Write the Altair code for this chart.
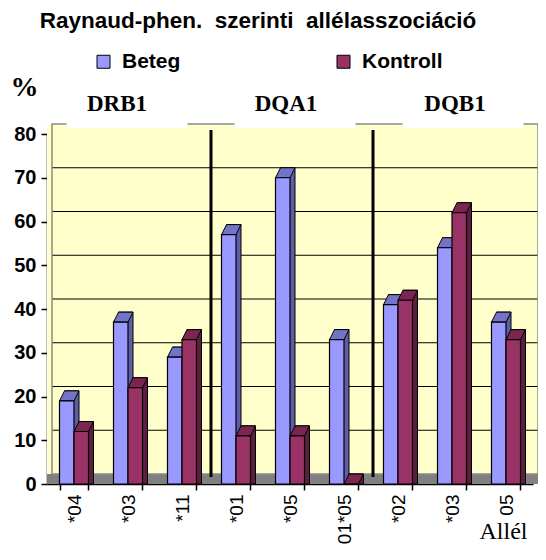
import altair as alt
import pandas as pd

# ---- data ----
groups = ["DRB1", "DRB1", "DRB1", "DQA1", "DQA1", "DQA1", "DQB1", "DQB1", "DQB1"]
alleles = ["*04", "*03", "*11", "*01", "*05", "01*05", "*02", "*03", "05"]
beteg = [19, 37, 29, 57, 70, 33, 41, 54, 37]
kontroll = [12, 22, 33, 11, 11, 0, 42, 62, 33]
series = ["Beteg", "Kontroll"]
group_names = ["DRB1", "DQA1", "DQB1"]
y_ticks = [0, 10, 20, 30, 40, 50, 60, 70, 80]

keys = [f"{g}|{a}" for g, a in zip(groups, alleles)]
rows = []
for k, b, c in zip(keys, beteg, kontroll):
    rows.append({"key": k, "series": "Beteg", "value": b})
    rows.append({"key": k, "series": "Kontroll", "value": c})
df = pd.DataFrame(rows)

mid_keys = [keys[1], keys[4], keys[7]]
grp_df = pd.DataFrame({"key": mid_keys, "label": group_names})
div_df = pd.DataFrame({"key": [keys[3], keys[6]]})
grid_df = pd.DataFrame({"value": y_ticks[1:-1]})
one = pd.DataFrame({"d": [0]})

FRONT = ["#9999FF", "#993366"]
SIDE = {"Beteg": "#5E5EA8", "Kontroll": "#5E1E3E"}
TOP_B, TOP_K = "#7373C8", "#7A2650"

xscale = alt.Scale(domain=keys, paddingInner=0.463, paddingOuter=0.2315)
yscale = alt.Scale(domain=[0, 80], nice=False, zero=True)

xenc = alt.X(
    "key:N",
    scale=xscale,
    sort=keys,
    axis=alt.Axis(
        title="Allél",
        titleFont="Liberation Serif",
        titleFontSize=24,
        titleFontWeight="normal",
        titleColor="black",
        titleX=432,
        titleY=54,
        titleAlign="left",
        titleBaseline="alphabetic",
        titleAngle=0,
        labelExpr="split(datum.value, '|')[1]",
        labelAngle=-90,
        labelFont="Liberation Sans",
        labelFontSize=19,
        labelColor="black",
        labelPadding=4,
        tickBand="extent",
        tickColor="black",
        tickSize=6,
        tickWidth=1.5,
        domainColor="black",
        domainWidth=1.5,
        grid=False,
    ),
)
yenc = alt.Y(
    "value:Q",
    scale=yscale,
    stack=None,
    axis=alt.Axis(
        title="%",
        titleFont="Liberation Serif",
        titleFontSize=28,
        titleFontWeight="bold",
        titleColor="black",
        titleAngle=0,
        titleX=-23,
        titleY=-39,
        titleAlign="center",
        titleBaseline="alphabetic",
        values=y_ticks,
        labelFont="Liberation Sans",
        labelFontWeight="bold",
        labelFontSize=20,
        labelColor="black",
        labelPadding=5,
        tickColor="black",
        tickSize=6,
        tickWidth=1.5,
        domainColor="black",
        domainWidth=1.5,
        grid=False,
    ),
)

# back wall (yellow) + side wall
wall = alt.Chart(one).mark_rect(color="#FFFFCC", x2Offset=5, yOffset=-10, opacity=1).encode(
    x=alt.value(0), x2=alt.value("width"), y=alt.datum(80), y2=alt.datum(0)
)
wall_border = alt.Chart(one).mark_rect(
    fill="white", fillOpacity=0, stroke="#8A8A8A", strokeWidth=1.5,
    xOffset=5, x2Offset=5, yOffset=-10, y2Offset=-10
).encode(x=alt.value(0), x2=alt.value("width"), y=alt.datum(80), y2=alt.datum(0))
floor = alt.Chart(one).mark_rect(color="#808080", x2Offset=5, y2Offset=-10, opacity=1).encode(
    x=alt.value(0), x2=alt.value("width"), y=alt.datum(0), y2=alt.datum(0)
)
grid = alt.Chart(grid_df).mark_rule(color="black", strokeWidth=1.2, xOffset=5, x2Offset=5, yOffset=-10).encode(
    x=alt.value(0), x2=alt.value("width"), y=yenc
)

# white label boxes and group captions (small per-group nudges as in the original)
box_dx = [-1, 5, 11]
text_dx = [-11, -4, 3]
label_layers = []
for g, bdx, tdx in zip(group_names, box_dx, text_dx):
    base = alt.Chart(grp_df).transform_filter(alt.datum.label == g)
    label_layers.append(
        base.mark_bar(color="white", width=121, xOffset=bdx, yOffset=-22, y2Offset=-6, opacity=1).encode(
            x=alt.X("key:N", scale=xscale, sort=keys), y=alt.datum(80), y2=alt.datum(80)
        )
    )
    label_layers.append(
        base.mark_text(
            font="Liberation Serif", fontSize=23, fontWeight="bold", color="black",
            baseline="alphabetic", align="center", dx=tdx, dy=-23,
        ).encode(x=alt.X("key:N", scale=xscale, sort=keys), y=alt.datum(80), text="label:N")
    )

dividers = alt.Chart(div_df).mark_rule(
    color="black", strokeWidth=3, xOffset=-10.5, yOffset=-4, y2Offset=-7
).encode(x=alt.X("key:N", scale=xscale, sort=keys, bandPosition=0), y=alt.datum(80), y2=alt.datum(0))

offs = alt.XOffset("series:N", scale=alt.Scale(domain=series, paddingInner=0, paddingOuter=0))

# side faces: one layer per series, shifted back-right by the 3D depth
side_layers = []
for s, cx in zip(series, [-7.25, 7.25]):
    side_layers.append(
        alt.Chart(df).transform_filter(alt.datum.series == s).mark_bar(
            width=14.5, xOffset=cx + 5, yOffset=-10, y2Offset=-10,
            color=SIDE[s], stroke="black", strokeWidth=1, opacity=1,
        ).encode(x=xenc, y=yenc)
    )

top_shape = "M -0.725 0 L 0.725 0 L 1.225 -1 L -0.225 -1 Z"
top = alt.Chart(df).mark_point(
    shape=top_shape, size=400, filled=True, stroke="black", strokeWidth=1, opacity=1
).encode(
    x=xenc, xOffset=offs, y=yenc,
    fill=alt.condition(alt.datum.series == "Beteg", alt.value(TOP_B), alt.value(TOP_K)),
)
front = alt.Chart(df).mark_bar(stroke="black", strokeWidth=1.2, opacity=1).encode(
    x=xenc, xOffset=offs, y=yenc,
    color=alt.Color(
        "series:N",
        scale=alt.Scale(domain=series, range=FRONT),
        legend=alt.Legend(
            title=None,
            orient="none",
            direction="horizontal",
            legendX=46,
            legendY=-83,
            padding=0,
            columnPadding=152,
            symbolType="square",
            symbolSize=169,
            symbolStrokeColor="black",
            symbolStrokeWidth=1,
            symbolOpacity=1,
            labelFont="Liberation Sans",
            labelFontSize=21,
            labelFontWeight="bold",
            labelColor="black",
            labelOffset=8,
        ),
    ),
)

title = alt.Chart(one).mark_text(
    text="Raynaud-phen.\u00a0 szerinti\u00a0 allélasszociáció",
    font="Liberation Sans", fontSize=22.5, fontWeight="bold", color="black",
    align="center", baseline="alphabetic",
).encode(x=alt.value(211), y=alt.value(-106))

chart = alt.layer(
    wall, floor, grid, wall_border, *label_layers, dividers, *side_layers, top, front, title
).properties(
    width=486,
    height=350,
    autosize=alt.AutoSizeParams(type="none"),
    padding={"left": 39, "top": 126, "right": 5, "bottom": 62},
).configure_view(stroke=None).configure(background="white")

chart.save("out.html", embed_options={"renderer": "svg", "actions": False})
